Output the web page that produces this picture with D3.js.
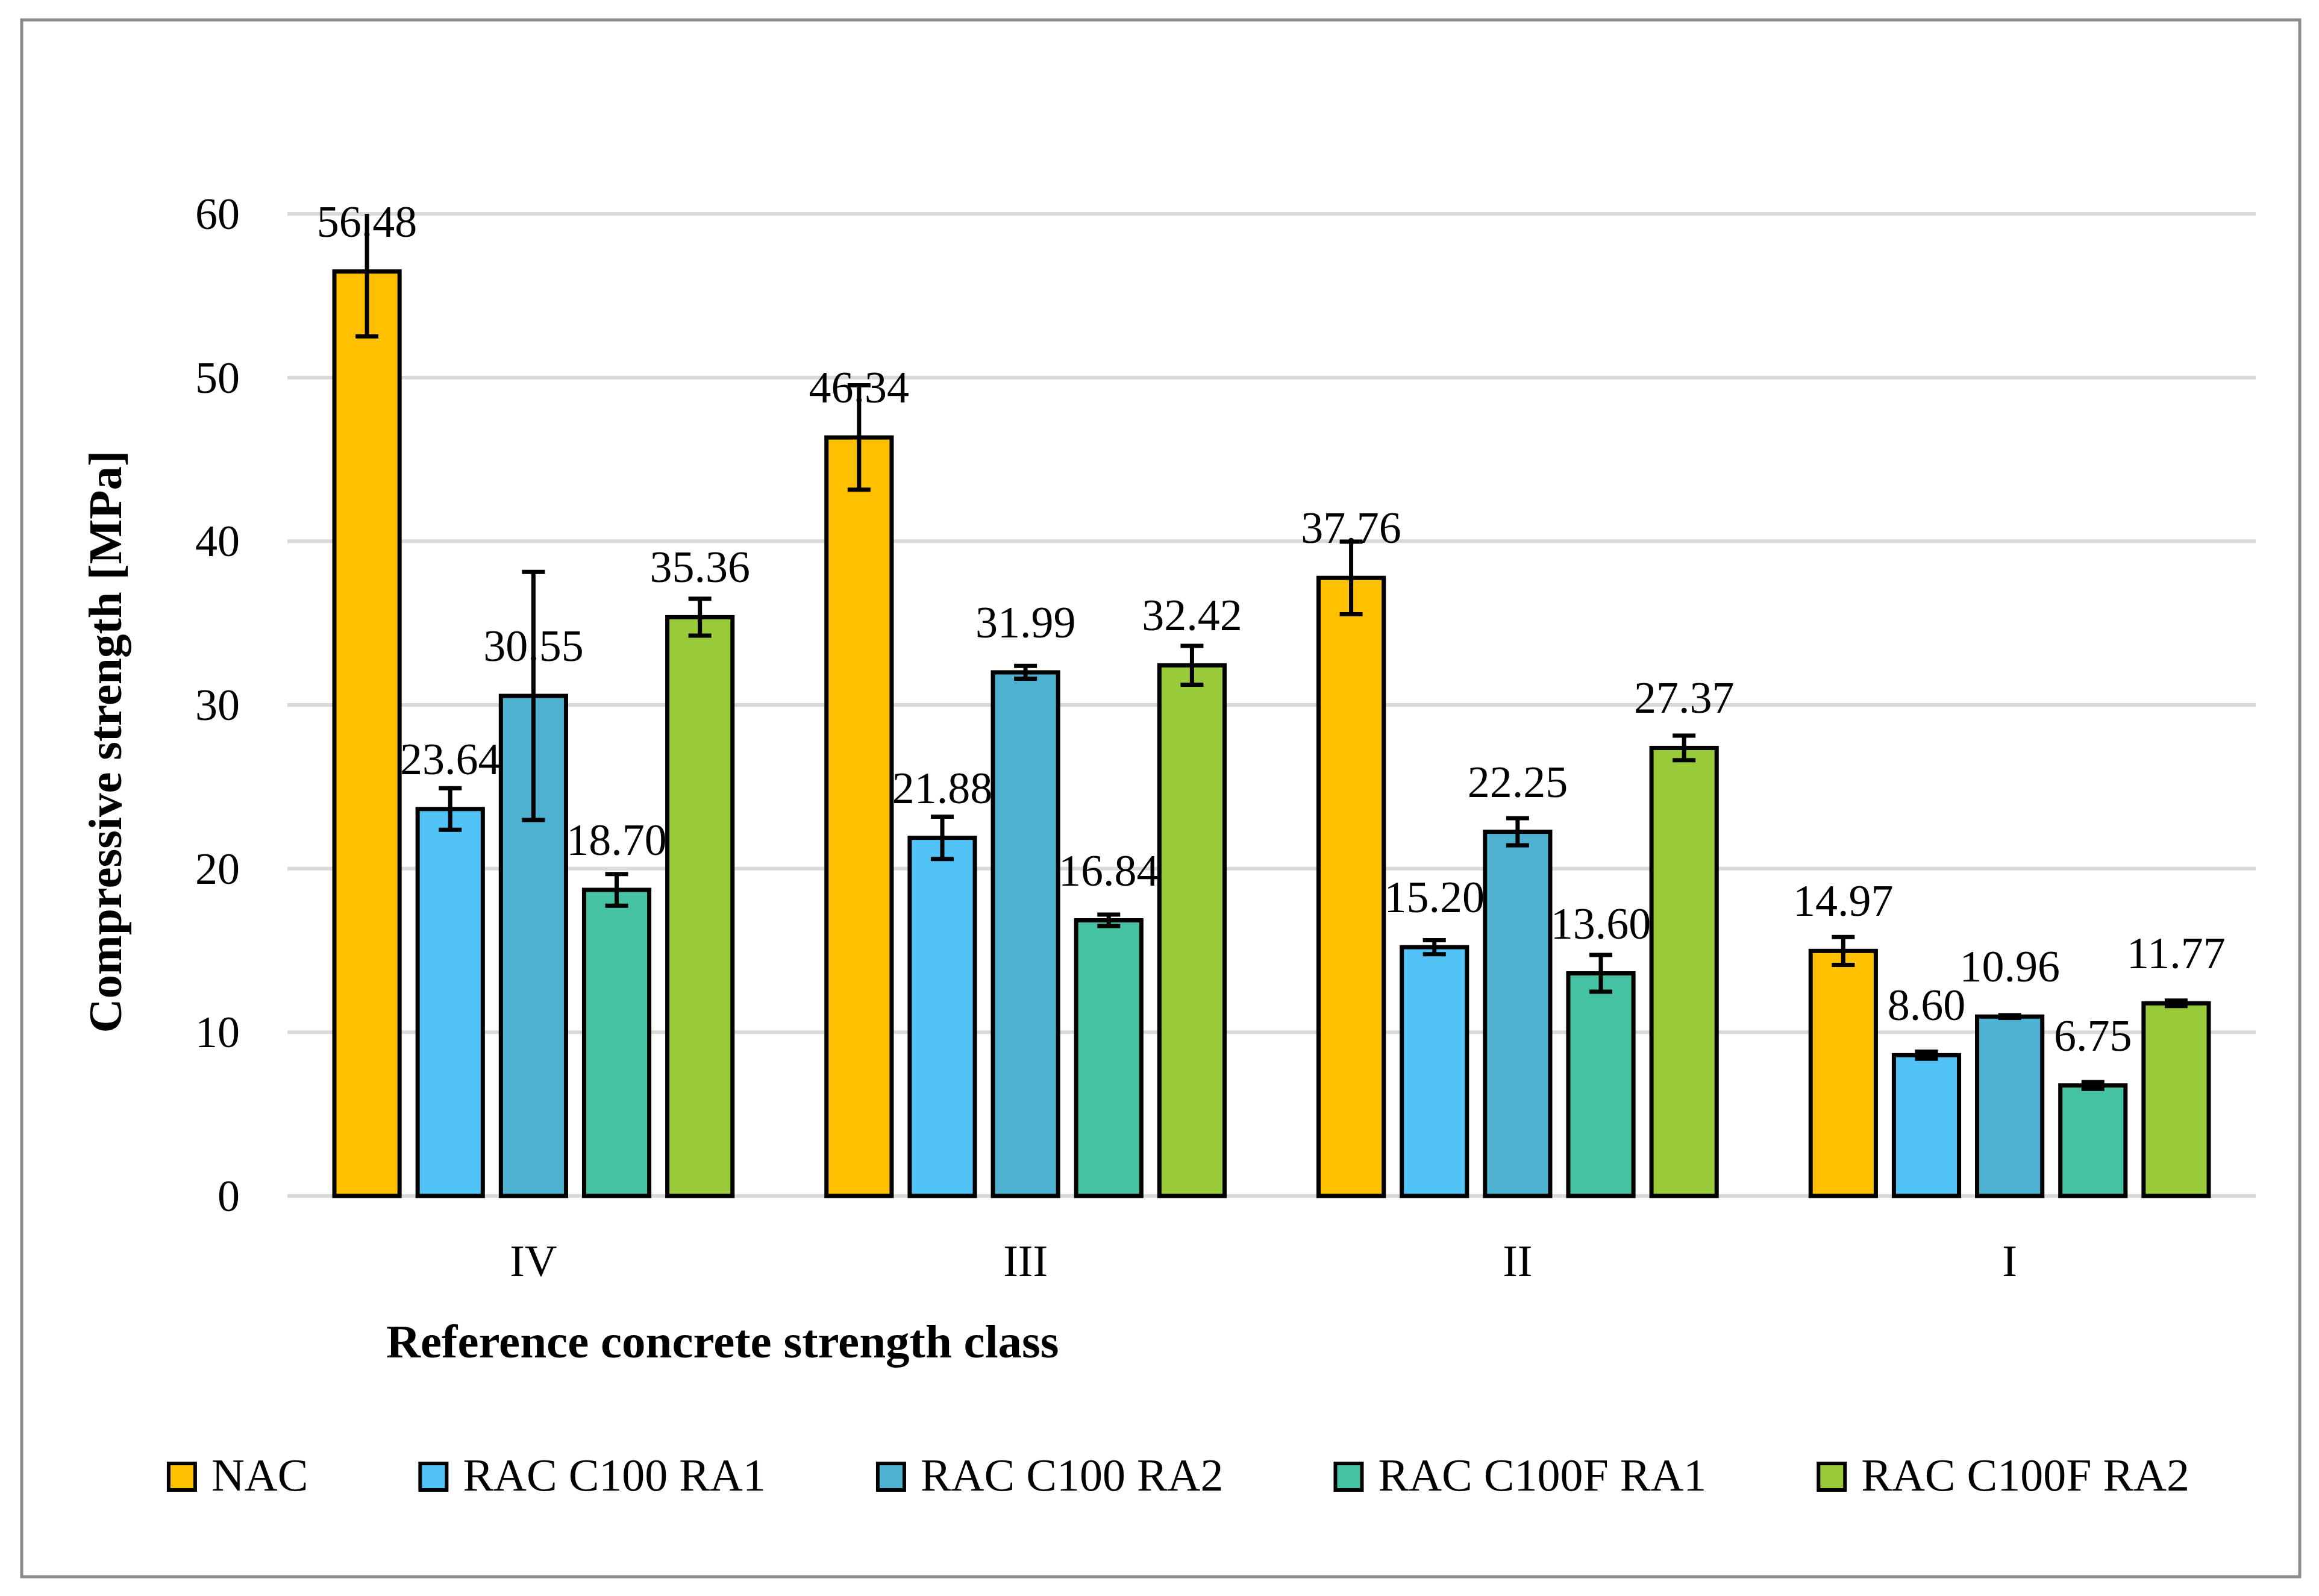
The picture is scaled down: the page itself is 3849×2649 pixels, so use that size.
<!DOCTYPE html>
<html>
<head>
<meta charset="utf-8">
<script src="https://cdn.jsdelivr.net/npm/d3@7"></script>
<style>
  body { margin: 0; background: #fff; }
  text { font-family: "Palatino Linotype", "Book Antiqua", Palatino, "Liberation Serif", serif; }
</style>
</head>
<body>
<script>
var width = 3849,
    height = 2649;

// chart data
var categories = ["IV", "III", "II", "I"];
var seriesNames = ["NAC", "RAC C100 RA1", "RAC C100 RA2", "RAC C100F RA1", "RAC C100F RA2"];
var seriesColors = ["#FFC000", "#52C3F7", "#4EB1CF", "#44C2A2", "#99CA3A"];
var nacValues    = [56.48, 46.34, 37.76, 14.97];
var ra1Values    = [23.64, 21.88, 15.20, 8.60];
var ra2Values    = [30.55, 31.99, 22.25, 10.96];
var fRa1Values   = [18.70, 16.84, 13.60, 6.75];
var fRa2Values   = [35.36, 32.42, 27.37, 11.77];
var nacErr  = [3.96, 3.19, 2.22, 0.85];
var ra1Err  = [1.27, 1.29, 0.43, 0.22];
var ra2Err  = [7.58, 0.39, 0.83, 0.08];
var fRa1Err = [0.97, 0.35, 1.12, 0.21];
var fRa2Err = [1.13, 1.19, 0.75, 0.17];
var yTicks = [0, 10, 20, 30, 40, 50, 60];

var allValues = [nacValues, ra1Values, ra2Values, fRa1Values, fRa2Values];
var allErrors = [nacErr, ra1Err, ra2Err, fRa1Err, fRa2Err];

var plot = {left: 477, right: 3744, top: 355, bottom: 1985};

var svg = d3.select("body").append("svg")
    .attr("width", width)
    .attr("height", height);

svg.append("rect")
    .attr("x", 36).attr("y", 33)
    .attr("width", 3817 - 36).attr("height", 2617 - 33)
    .style("fill", "#fff")
    .style("stroke", "#8a8a8a")
    .style("stroke-width", 5);

var x0 = d3.scaleBand().domain(categories).range([plot.left, plot.right]).padding(0);
var catPad = 78;
var x1 = d3.scaleBand().domain(seriesNames)
    .range([catPad, x0.bandwidth() - catPad])
    .paddingInner(0.217).paddingOuter(0);
var y = d3.scaleLinear().domain([0, 60]).range([plot.bottom, plot.top]);

svg.append("defs").append("clipPath").attr("id", "plotClip")
  .append("rect")
    .attr("x", plot.left).attr("y", plot.top)
    .attr("width", plot.right - plot.left).attr("height", plot.bottom - plot.top);

// gridlines
svg.selectAll(".grid").data(yTicks).enter()
  .append("line")
    .attr("class", "grid")
    .attr("x1", plot.left).attr("x2", plot.right)
    .attr("y1", function(d) { return y(d); })
    .attr("y2", function(d) { return y(d); })
    .style("stroke", "#d9d9d9")
    .style("stroke-width", 6);

// y tick labels
svg.selectAll(".yTick").data(yTicks).enter()
  .append("text")
    .attr("class", "yTick")
    .attr("x", 398)
    .attr("y", function(d) { return y(d); })
    .attr("dy", "0.34em")
    .attr("font-size", "74px")
    .style("text-anchor", "end")
    .text(function(d) { return d; });

// flatten bars
var bars = [];
seriesNames.forEach(function(s, si) {
  categories.forEach(function(c, ci) {
    bars.push({series: s, si: si, cat: c, value: allValues[si][ci], err: allErrors[si][ci]});
  });
});

function barX(d) { return x0(d.cat) + x1(d.series); }

svg.selectAll(".bar").data(bars).enter()
  .append("rect")
    .attr("class", "bar")
    .attr("x", barX)
    .attr("y", function(d) { return y(d.value); })
    .attr("width", x1.bandwidth())
    .attr("height", function(d) { return y(0) - y(d.value); })
    .style("fill", function(d) { return seriesColors[d.si]; })
    .style("stroke", "#000")
    .style("stroke-width", 7);

// data labels
svg.selectAll(".dataLabel").data(bars).enter()
  .append("text")
    .attr("class", "dataLabel")
    .attr("x", function(d) { return barX(d) + x1.bandwidth() / 2; })
    .attr("y", function(d) { return y(d.value) - 58; })
    .attr("font-size", "74px")
    .style("text-anchor", "middle")
    .text(function(d) { return d.value.toFixed(2); });

// error bars (clipped to the plot area, as in the original)
var errG = svg.append("g").attr("clip-path", "url(#plotClip)")
    .style("stroke", "#000").style("stroke-width", 7);
var capW = 38;
bars.forEach(function(d) {
  var cx = barX(d) + x1.bandwidth() / 2;
  var yt = y(d.value + d.err), yb = y(d.value - d.err);
  errG.append("line").attr("x1", cx).attr("x2", cx).attr("y1", yt).attr("y2", yb);
  errG.append("line").attr("x1", cx - capW / 2).attr("x2", cx + capW / 2).attr("y1", yt).attr("y2", yt);
  errG.append("line").attr("x1", cx - capW / 2).attr("x2", cx + capW / 2).attr("y1", yb).attr("y2", yb);
});

// category labels
svg.selectAll(".catLabel").data(categories).enter()
  .append("text")
    .attr("class", "catLabel")
    .attr("x", function(d) { return x0(d) + x0.bandwidth() / 2; })
    .attr("y", 2118)
    .attr("font-size", "74px")
    .style("text-anchor", "middle")
    .text(function(d) { return d; });

// axis titles
svg.append("text")
    .attr("x", 641).attr("y", 2253)
    .attr("font-size", "79px")
    .attr("font-weight", "bold")
    .text("Reference concrete strength class");

svg.append("text")
    .attr("transform", "translate(201,1231) rotate(-90)")
    .attr("font-size", "79px")
    .attr("font-weight", "bold")
    .style("text-anchor", "middle")
    .text("Compressive strength [MPa]");

// legend
var legend = svg.append("g");
var legendY = 2474, boxSize = 44, textGap = 71, itemGap = 186;
var items = legend.selectAll(".legendItem").data(seriesNames).enter()
  .append("g").attr("class", "legendItem");
items.append("rect")
    .attr("width", boxSize).attr("height", boxSize)
    .attr("y", legendY - 45)
    .style("fill", function(d, i) { return seriesColors[i]; })
    .style("stroke", "#000")
    .style("stroke-width", 6);
items.append("text")
    .attr("x", textGap)
    .attr("y", legendY)
    .attr("font-size", "76px")
    .text(function(d) { return d; });

var widths = [];
items.each(function() { widths.push(d3.select(this).select("text").node().getComputedTextLength()); });
var total = d3.sum(widths) + widths.length * textGap + (widths.length - 1) * itemGap;
var cursor = 1957 - total / 2;
items.attr("transform", function(d, i) {
  var t = "translate(" + cursor + ",0)";
  cursor += textGap + widths[i] + itemGap;
  return t;
});
</script>
</body>
</html>
